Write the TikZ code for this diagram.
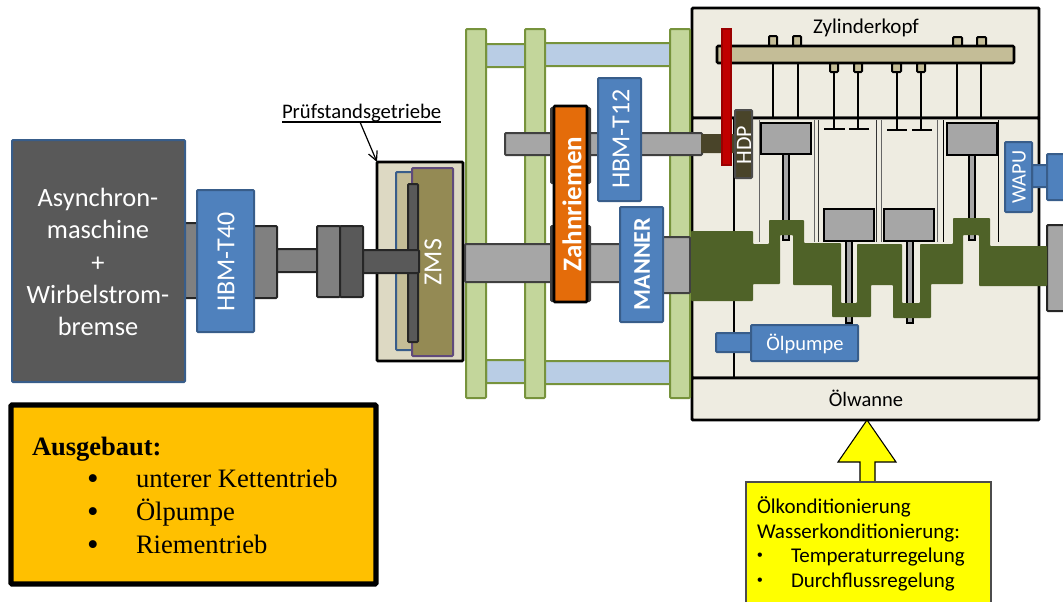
\documentclass[tikz,border=0pt]{standalone}
\usepackage{fontspec}
\usetikzlibrary{arrows.meta}
\setmainfont{Carlito}
\newfontfamily\serifrm{Liberation Serif}
\newfontfamily\sansrm{Liberation Sans}
\newcommand{\bx}[6]{%
  \pgfmathsetmacro\bxw{(#5-#3)*0.75}%
  \pgfmathsetmacro\bxh{(#6-#4)*0.75}%
  \pgfmathsetmacro\bxx{(#3+#5)/2}%
  \pgfmathsetmacro\bxy{(#4+#6)/2}%
  \node[rectbox,#2,minimum width=\bxw pt,minimum height=\bxh pt] (#1) at (\bxx,\bxy) {};}
\newcommand{\fs}[1]{\pgfmathsetmacro\fsz{#1*0.75}\fontsize{\fsz pt}{\fsz pt}\selectfont}
\definecolor{bluef}{HTML}{4F81BD}
\definecolor{blueb}{HTML}{385D8A}
\definecolor{greenf}{HTML}{C3D69B}
\definecolor{greenb}{HTML}{77933C}
\definecolor{lblue}{HTML}{B9CDE5}
\definecolor{cream}{HTML}{EEECE1}
\definecolor{tan1}{HTML}{C4BD97}
\definecolor{tan2}{HTML}{DDD9C3}
\definecolor{olive}{HTML}{948A54}
\definecolor{purpleb}{HTML}{604A7B}
\definecolor{crank}{HTML}{4F6228}
\definecolor{hdpf}{HTML}{494429}
\definecolor{orangeb}{HTML}{E46C0A}
\definecolor{redw}{HTML}{C00000}
\definecolor{amber}{HTML}{FFC000}
\definecolor{pureyellow}{HTML}{FFFF00}
\tikzset{
  rectbox/.style={rectangle,inner sep=0pt,outer sep=0pt,draw,line width=1.5pt,rounded corners=0.8pt},
  blueb box/.style={fill=bluef,draw=blueb},
  plate/.style={fill=greenf,draw=greenb},
  rail/.style={fill=lblue,draw=greenb},
  shaftb/.style={fill=black!35,draw=black!75},
  midb/.style={fill=black!50,draw=black!85},
  darkb/.style={fill=black!65,draw=black!85},
  pist/.style={fill=black!35,draw=black,line width=1.6pt,rounded corners=0pt},
  rod/.style={fill=black!35,draw=black,line width=1.1pt,rounded corners=0pt},
  cream box/.style={fill=cream,draw=black,line width=2.2pt},
  cap box/.style={fill=tan1,draw=black,line width=1.5pt},
  wall/.style={line width=0.7pt},
  stem/.style={line width=2pt},
  lab/.style={inner sep=0pt,outer sep=0pt,align=center},
  whitelab/.style={lab,text=white},
  base/.style={inner sep=0pt,outer sep=0pt,anchor=base west}
}
\begin{document}
\begin{tikzpicture}[x=0.75pt,y=-0.75pt]
\useasboundingbox (0,0) rectangle (1063,601);
% Engine housing
\bx{head}{cream box}{692}{8}{1039}{118}
\bx{block}{cream box}{692}{118}{1039}{378}
\bx{sump}{cream box}{692}{378}{1039}{420}
\draw[line width=1.8pt] (734,118) -- (734,377);
% Cylinder walls
\foreach \xw/\cw in {759/black!60,814/black!60,818/black!80,876/black!80,881/black!60,937/black!60,943/black,998/black}
  \draw[wall,draw=\cw] (\xw,120) -- (\xw,242);
% Frame plates
\bx{blueTL}{rail}{486}{44}{526}{67}
\bx{blueTR}{rail}{544}{43}{671}{66}
\bx{blueBL}{rail}{486}{360}{526}{383}
\bx{blueBR}{rail}{544}{361}{671}{384}
\bx{plateA}{plate}{466}{29}{486}{398}
\bx{plateB}{plate}{525}{29}{545}{398}
\bx{plateC}{plate}{670}{29}{690}{398}
% Machine and left driveline
\bx{stubA}{midb}{178}{223}{198}{298}
\bx{machine}{fill=black!65,draw=blueb}{12}{140}{185}{382}
\bx{stubB}{midb}{250}{226}{277}{298}
\bx{hbmA}{blueb box}{197}{190}{254}{332}
\bx{gearbox}{fill=tan2,draw=black,line width=2pt}{377}{162}{463}{361}
\bx{zmsback}{fill=tan1,draw=blueb}{396}{172}{430}{350}
\bx{zms}{fill=olive,draw=purpleb}{412}{168}{453}{356}
\bx{shaftA}{midb}{277}{249}{317}{272}
\bx{hubA}{midb}{317}{226}{340}{297}
\bx{hubB}{darkb}{340}{226}{363}{297}
\bx{disc}{darkb}{408}{184}{418}{342}
\bx{shaftB}{darkb}{363}{250}{419}{273}
% Shafts and belt
\bx{shaftUp}{shaftb}{505}{133}{702}{155}
\bx{shaftLow}{shaftb}{465}{244}{622}{282}
\bx{shaftEnd}{shaftb}{660}{237}{690}{293}
\bx{hbmB}{blueb box}{598}{78}{641}{201}
\bx{pulleyUp}{fill=black!75,draw=black!75}{551}{108}{590}{183}
\bx{pulleyLow}{fill=black!75,draw=black!75}{551}{226}{590}{301}
\bx{belt}{fill=orangeb,draw=black,line width=2pt}{554}{106}{587}{302}
\bx{manner}{blueb box}{620}{207}{663}{322}
% High pressure pump drive
\bx{hdpshaft}{fill=hdpf,draw=hdpf}{702}{135}{736}{152}
\bx{hdp}{fill=hdpf,draw=black!70}{735}{110}{752}{178}
% Rail and valves
\foreach \xv in {773,798,957,981}
  \draw[stem] (\xv,63) -- (\xv,118);
\foreach \xv/\xa/\xb/\yt in {834/824/845/129,858/849/869/129,897/887/907/130,921/912/932/130}{
  \draw[stem] (\xv,72) -- (\xv,\yt);
  \draw[stem] (\xa,\yt) -- (\xb,\yt);
}
\bx{capA}{cap box}{769}{36}{777}{46}
\bx{capB}{cap box}{793}{36}{801}{46}
\bx{capC}{cap box}{953}{37}{962}{46}
\bx{capD}{cap box}{977}{37}{986}{46}
\bx{capE}{cap box}{830}{63}{838}{72}
\bx{capF}{cap box}{854}{63}{862}{72}
\bx{capG}{cap box}{892}{63}{901}{72}
\bx{capH}{cap box}{917}{63}{925}{72}
\bx{fuelrail}{fill=tan1,draw=black,line width=1.9pt}{717}{46}{1014}{63}
\bx{camwheel}{fill=redw,draw=redw!80!black,line width=1pt,rounded corners=0pt}{722}{29}{731}{165}
% Connecting rods and pistons
\bx{rodA}{rod}{783}{154}{789}{240}
\bx{rodB}{rod}{846}{241}{852}{323}
\bx{rodC}{rod}{907}{241}{913}{323}
\bx{rodD}{rod}{969}{155}{975}{240}
\bx{pistonA}{pist}{761}{123}{811}{154}
\bx{pistonB}{pist}{824}{209}{874}{241}
\bx{pistonC}{pist}{884}{209}{934}{241}
\bx{pistonD}{pist}{947}{123}{997}{155}
% Right shaft end
\bx{shaftRight}{fill=black!35,draw=black!85}{1047}{225}{1070}{311}
% Crankshaft
\fill[crank,rounded corners=0.6pt]
  (691,231) -- (753,231) -- (753,244) -- (769,244) -- (769,220) -- (804,220) -- (804,243)
  -- (841,243) -- (841,303) -- (857,303) -- (857,244) -- (902,244) -- (902,303) -- (920,303)
  -- (920,244) -- (953,244) -- (953,218) -- (990,218) -- (990,246) -- (1047,246) -- (1047,286)
  -- (979,286) -- (979,235) -- (963,235) -- (963,284) -- (931,284) -- (931,318) -- (893,318)
  -- (893,285) -- (871,285) -- (871,317) -- (832,317) -- (832,285) -- (793,285) -- (793,235)
  -- (780,235) -- (780,284) -- (753,284) -- (753,301) -- (691,301) -- cycle;
% Pumps
\bx{oilstem}{blueb box}{716}{333}{752}{352}
\bx{oilpump}{blueb box}{751}{325}{858}{361}
\bx{wapustem}{blueb box}{1032}{165}{1048}{187}
\bx{wapuhead}{blueb box}{1047}{154}{1070}{200}
\bx{wapu}{blueb box}{1005}{142}{1032}{212}
% Texts
\node[whitelab,font=\fontsize{19.8pt}{24.2pt}\selectfont] (tMachine) at (98,262) {Asynchron-\\maschine\\+\\Wirbelstrom-\\bremse};
\node[whitelab,rotate=90] (tHbmA) at (226,262) {\fs{26}HBM-T40};
\node[whitelab,rotate=90] (tHbmB) at (621,139) {\fs{26}HBM-T12};
\node[whitelab,rotate=90] (tManner) at (642,264) {\fs{24}\bfseries MANNER};
\node[whitelab,rotate=90] (tBelt) at (572,204) {\fs{27}\bfseries Zahnriemen};
\node[whitelab,rotate=90] (tZms) at (433,262) {\fs{26}ZMS};
\node[whitelab,rotate=90] (tHdp) at (744,145) {\fs{22}HDP};
\node[whitelab,rotate=90] (tWapu) at (1019,177) {\fs{20.5}WAPU};
\node[whitelab] (tOilpump) at (805,344) {\fs{20.5}Ölpumpe};
\node[lab] (tHead) at (866,28) {\fs{21}Zylinderkopf};
\node[lab] (tSump) at (866,398) {\fs{20.5}Ölwanne};
\node[base] (tGear) at (282,118) {\fs{20.7}Prüfstandsgetriebe};
\draw[line width=0.8pt] (282,122) -- (441,122);
\coordinate (gearstart) at (360,122);
\draw[line width=0.9pt,-{Straight Barb[length=7pt,width=7pt]}] (gearstart) -- (gearbox.north west);
% Info box
\bx{infobox}{fill=amber,draw=black,line width=3.8pt}{11}{405}{376}{584}
\node[base,font=\serifrm\bfseries] (tAus) at (32,455) {\fs{26.5}Ausgebaut:};
\node[base,font=\serifrm] (bA) at (87,489) {\fs{33}•};
\node[base,font=\serifrm] (bB) at (87,522) {\fs{33}•};
\node[base,font=\serifrm] (bC) at (87,555) {\fs{33}•};
\node[base,font=\serifrm] (tA) at (136,487) {\fs{26.6}unterer Kettentrieb};
\node[base,font=\serifrm] (tB) at (136,520) {\fs{26.6}Ölpumpe};
\node[base,font=\serifrm] (tC) at (136,553) {\fs{26.6}Riementrieb};
% Conditioning arrow and box
\coordinate (tip) at (867,420);
\filldraw[fill=pureyellow,draw=black,line width=0.8pt] (860,482) -- (860,462) -- (838,462) -- (tip) -- (896,462) -- (875,462) -- (875,482);
\bx{condbox}{fill=pureyellow,draw=black!70,line width=0.8pt,rounded corners=0pt}{746}{482}{991}{610}
\node[base] (cA) at (757,513) {\fs{21}Ölkonditionierung};
\node[base] (cB) at (757,538) {\fs{21}Wasserkonditionierung:};
\node[base,font=\sansrm] (cBa) at (757,560) {\fs{16}•};
\node[base,font=\sansrm] (cBb) at (757,585) {\fs{16}•};
\node[base] (cC) at (791,562) {\fs{21}Temperaturregelung};
\node[base] (cD) at (791,587) {\fs{21}Durchflussregelung};
\end{tikzpicture}
\end{document}
